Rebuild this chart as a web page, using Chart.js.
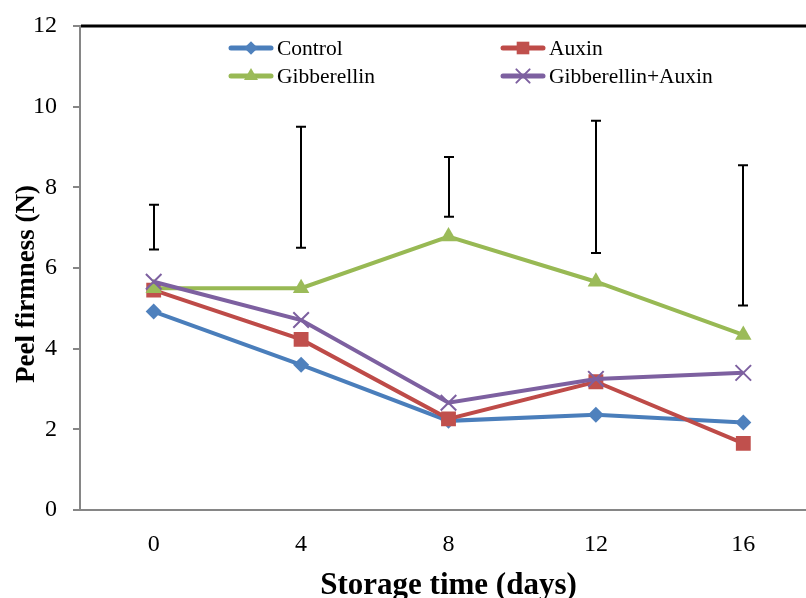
<!DOCTYPE html>
<html>
<head>
<meta charset="utf-8">
<script src="https://cdn.jsdelivr.net/npm/chart.js@4/dist/chart.umd.min.js"></script>
<style>
html,body{margin:0;padding:0;background:#fff;overflow:hidden;}
#wrap{width:806px;height:598px;overflow:hidden;position:relative;}
canvas{display:block;}
</style>
</head>
<body>
<div id="wrap"><canvas id="c" width="830" height="598"></canvas></div>
<script>
// ---- data ----
const categories = ['0', '4', '8', '12', '16'];
const control = [4.92, 3.60, 2.21, 2.36, 2.17];
const auxin = [5.45, 4.23, 2.26, 3.18, 1.65];
const gibberellin = [5.50, 5.50, 6.78, 5.66, 4.34];
const gibAuxin = [5.66, 4.71, 2.66, 3.25, 3.40];
const errLow = [6.46, 6.50, 7.27, 6.37, 5.07];
const errHigh = [7.57, 9.50, 8.75, 9.65, 8.55];
const seriesNames = ['Control', 'Auxin', 'Gibberellin', 'Gibberellin+Auxin'];
const yTicks = [0, 2, 4, 6, 8, 10, 12];
const xTitle = 'Storage time (days)';
const yTitle = 'Peel firmness (N)';

const SERIF = "'Liberation Serif', 'Times New Roman', serif";
const colors = ['#4A7EBB', '#BE4B48', '#98B954', '#7D60A0'];
const fills = ['#4F81BD', '#C0504D', '#9BBB59', '#8064A2'];
const styles = ['rectRot', 'rect', 'triangle', 'crossRot'];
const radii = [8, 10.5, 9.5, 11];

function drawMarker(ctx, style, x, y, r, fill, stroke) {
  ctx.save();
  ctx.fillStyle = fill; ctx.strokeStyle = stroke; ctx.lineWidth = 2;
  ctx.beginPath();
  if (style === 'rectRot') {
    ctx.moveTo(x, y - r); ctx.lineTo(x + r, y); ctx.lineTo(x, y + r); ctx.lineTo(x - r, y); ctx.closePath(); ctx.fill();
  } else if (style === 'rect') {
    const s = r * Math.SQRT1_2; ctx.rect(x - s, y - s, 2 * s, 2 * s); ctx.fill();
  } else if (style === 'triangle') {
    ctx.moveTo(x, y - r); ctx.lineTo(x + r * 0.866, y + r * 0.5); ctx.lineTo(x - r * 0.866, y + r * 0.5); ctx.closePath(); ctx.fill();
  } else {
    const s = r * Math.SQRT1_2; ctx.moveTo(x - s, y - s); ctx.lineTo(x + s, y + s); ctx.moveTo(x + s, y - s); ctx.lineTo(x - s, y + s); ctx.stroke();
  }
  ctx.restore();
}

const extras = {
  id: 'extras',
  afterDatasetsDraw(chart) {
    const ctx = chart.ctx, xs = chart.scales.x, ys = chart.scales.y, ca = chart.chartArea;
    // error bars
    ctx.save();
    ctx.strokeStyle = '#000'; ctx.lineWidth = 2;
    for (let i = 0; i < categories.length; i++) {
      const x = Math.round(xs.getPixelForValue(i));
      const y1 = ys.getPixelForValue(errHigh[i]), y2 = ys.getPixelForValue(errLow[i]);
      ctx.beginPath();
      ctx.moveTo(x, y1); ctx.lineTo(x, y2);
      ctx.moveTo(x - 5, y1); ctx.lineTo(x + 5, y1);
      ctx.moveTo(x - 5, y2); ctx.lineTo(x + 5, y2);
      ctx.stroke();
    }
    // top border of plot area
    ctx.lineWidth = 3;
    ctx.beginPath(); ctx.moveTo(ca.left + 1, ca.top); ctx.lineTo(ca.right + 20, ca.top); ctx.stroke();
    ctx.restore();
    // axis titles
    ctx.save();
    ctx.fillStyle = '#000';
    ctx.textAlign = 'center';
    ctx.textBaseline = 'alphabetic';
    ctx.font = "bold 31px " + SERIF;
    ctx.fillText(xTitle, (ca.left + ca.right) / 2, 594);
    ctx.translate(34, (ca.top + ca.bottom) / 2 + 16);
    ctx.rotate(-Math.PI / 2);
    ctx.font = "bold 27px " + SERIF;
    ctx.fillText(yTitle, 0, 0);
    ctx.restore();
    // legend
    const pos = [[229, 48], [501, 48], [229, 76], [501, 76]];
    ctx.save();
    ctx.font = "21.5px " + SERIF;
    ctx.textBaseline = 'middle';
    ctx.fillStyle = '#000';
    for (let k = 0; k < 4; k++) {
      const [lx, ly] = pos[k];
      ctx.strokeStyle = colors[k]; ctx.lineWidth = 5; ctx.lineCap = 'round';
      ctx.beginPath(); ctx.moveTo(lx + 2, ly); ctx.lineTo(lx + 42, ly); ctx.stroke();
      drawMarker(ctx, styles[k], lx + 22, ly, radii[k] * 0.85, fills[k], colors[k]);
      ctx.fillText(seriesNames[k], lx + 48, ly + 1);
    }
    ctx.restore();
  }
};

const dataSeries = [control, auxin, gibberellin, gibAuxin];
const datasets = dataSeries.map((d, k) => ({
  label: seriesNames[k],
  data: d,
  borderColor: colors[k],
  backgroundColor: fills[k],
  pointBackgroundColor: fills[k],
  pointBorderColor: k === 3 ? colors[k] : fills[k],
  pointBorderWidth: k === 3 ? 2 : 0,
  borderWidth: 4,
  pointStyle: styles[k],
  pointRadius: radii[k],
  pointHoverRadius: radii[k],
  tension: 0,
  order: 3 - k
}));

new Chart(document.getElementById('c'), {
  type: 'line',
  data: { labels: categories, datasets },
  plugins: [extras],
  options: {
    responsive: false,
    animation: false,
    devicePixelRatio: 1,
    layout: { padding: { left: 0, top: 26, right: 12.5, bottom: 0 } },
    plugins: { legend: { display: false }, tooltip: { enabled: false } },
    scales: {
      x: {
        type: 'category',
        offset: true,
        grid: { display: true, drawOnChartArea: false, drawTicks: false },
        border: { display: true, color: '#868686', width: 2 },
        ticks: { color: '#000', font: { family: SERIF, size: 24 }, padding: 20 },
        afterFit(s) { s.height = 88; s.paddingLeft = 0; s.paddingRight = 0; }
      },
      y: {
        min: 0, max: 12,
        afterBuildTicks(s) { s.ticks = yTicks.map(v => ({ value: v })); },
        grid: { display: true, drawOnChartArea: false, drawTicks: true, tickLength: 7, color: '#868686', lineWidth: 2 },
        border: { display: true, color: '#868686', width: 2 },
        ticks: { color: '#000', font: { family: SERIF, size: 24 }, padding: 16 },
        afterFit(s) { s.width = 80; s.paddingTop = 0; s.paddingBottom = 0; }
      }
    }
  }
});
</script>
</body>
</html>
